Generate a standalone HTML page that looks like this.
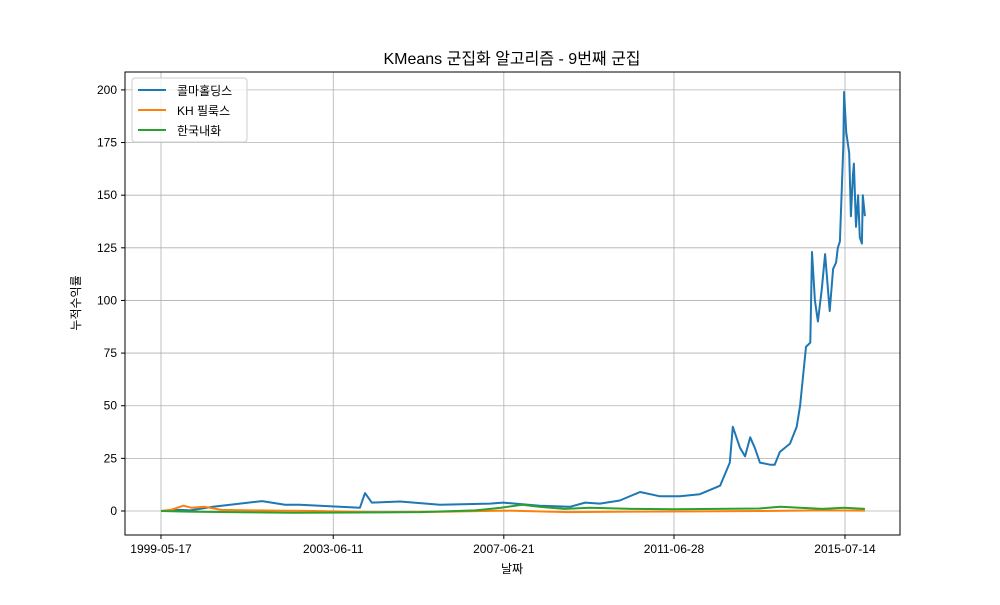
<!DOCTYPE html>
<html><head><meta charset="utf-8"><style>
body{margin:0;background:#fff;font-family:"Liberation Sans","Noto Sans CJK KR",sans-serif}
</style></head><body>
<svg id="chart" width="1000" height="600" xmlns="http://www.w3.org/2000/svg" font-family="Liberation Sans, Noto Sans CJK KR, sans-serif">
<rect width="1000" height="600" fill="#fff"/>
<g id="grid"></g><g id="series"></g><g id="axes"></g>
<text x="512" y="64" text-anchor="middle" font-size="16" fill="#000">KMeans 군집화 알고리즘 - 9번째 군집</text>
<text x="512" y="573" text-anchor="middle" font-size="12">날짜</text>
<text transform="translate(80,303) rotate(-90)" text-anchor="middle" font-size="12">누적수익률</text>
<g>
<rect x="132" y="78" width="115" height="64" fill="#fff" fill-opacity="0.8" stroke="#ccc" rx="3"/>
<g><line x1="138" y1="90" x2="166" y2="90" stroke="#1f77b4" stroke-width="2"/><text x="177" y="95" font-size="12">콜마홀딩스</text></g>
<g><line x1="138" y1="110" x2="166" y2="110" stroke="#ff7f0e" stroke-width="2"/><text x="177" y="115" font-size="12">KH 필룩스</text></g>
<g><line x1="138" y1="130" x2="166" y2="130" stroke="#2ca02c" stroke-width="2"/><text x="177" y="135" font-size="12">한국내화</text></g>
</g>
</svg>
<script>
const yTicks=[0,25,50,75,100,125,150,175,200];
const xTickYears=[1999.37,2003.44,2007.47,2011.49,2015.53];
const xTickLabels=["1999-05-17","2003-06-11","2007-06-21","2011-06-28","2015-07-14"];
const blueYears=[1999.37,1999.82,2000.06,2000.60,2001.76,2002.30,2002.65,2004.07,2004.19,2004.35,2005.02,2005.96,2007.14,2007.45,2008.32,2009.03,2009.39,2009.74,2010.21,2010.69,2011.16,2011.63,2012.10,2012.34,2012.58,2012.81,2012.88,2013.05,2013.17,2013.29,2013.40,2013.52,2013.76,2013.87,2013.99,2014.23,2014.39,2014.47,2014.61,2014.71,2014.75,2014.82,2014.89,2014.98,2015.06,2015.13,2015.17,2015.25,2015.32,2015.36,2015.41,2015.49,2015.51,2015.56,2015.63,2015.67,2015.72,2015.74,2015.79,2015.84,2015.88,2015.93,2015.95,2016.00];
const blueValues=[0,0.5,0.3,2,4.7,3,3,1.5,8.5,4,4.5,3,3.5,4,2.5,2,4,3.5,5,9,7,7,8,10,12,23,40,30,26,35,30,23,22,22,28,32,40,50,78,80,123,100,90,105,122,105,95,115,118,125,128,173,199,180,170,140,160,165,135,150,130,127,150,140];
const orangeYears=[1999.37,1999.6,1999.9,2000.1,2000.4,2000.8,2001.5,2003.0,2004.5,2006.0,2007.5,2009.0,2010.5,2012.0,2013.5,2015.0,2016.0];
const orangeValues=[0,0.5,2.5,1.5,2,0.5,0.3,0,-0.5,-0.4,0.2,-0.5,-0.3,-0.2,0,0.3,0.2];
const greenYears=[1999.37,2000.0,2001.0,2002.5,2004.0,2005.5,2006.8,2007.4,2007.9,2008.3,2008.9,2009.5,2010.5,2011.5,2012.5,2013.5,2014.0,2015.0,2015.5,2016.0];
const greenValues=[0,-0.3,-0.5,-0.8,-0.7,-0.5,0.3,1.5,3,2,1,1.5,1,0.8,1,1.2,2,1,1.5,1];
const L=125,R=900,T=72,B=535,X0=1998.52,X1=2016.83,Y0=-11.4,Y1=208.5;
const sx=v=>L+(v-X0)/(X1-X0)*(R-L), sy=v=>B-(v-Y0)/(Y1-Y0)*(B-T);
const NS="http://www.w3.org/2000/svg";
function mk(p,t,a){const e=document.createElementNS(NS,t);for(const k in a)e.setAttribute(k,a[k]);p.appendChild(e);return e;}
const grid=document.getElementById('grid'),axes=document.getElementById('axes'),ser=document.getElementById('series');
yTicks.forEach(v=>{const y=sy(v);
const g=mk(grid,'line',{x1:L,x2:R,y1:y,y2:y,stroke:'#b0b0b0','stroke-width':0.8});


mk(axes,'line',{x1:L-4,x2:L,y1:y,y2:y,stroke:'#000'});
const t=mk(axes,'text',{x:L-8,y:y+4,'text-anchor':'end','font-size':12});t.textContent=v;

});
xTickYears.forEach((v,i)=>{const x=sx(v);
const g=mk(grid,'line',{x1:x,x2:x,y1:T,y2:B,stroke:'#b0b0b0','stroke-width':0.8});


mk(axes,'line',{x1:x,x2:x,y1:B,y2:B+4,stroke:'#000'});
const t=mk(axes,'text',{x:x,y:B+18,'text-anchor':'middle','font-size':12});t.textContent=xTickLabels[i];

});
const fr=mk(axes,'rect',{x:L,y:T,width:R-L,height:B-T,fill:'none',stroke:'#000','stroke-width':1});


function line(xs,ys,c,name){const d=xs.map((x,i)=>(i?'L':'M')+sx(x).toFixed(1)+','+sy(ys[i]).toFixed(1)).join('');
const p=mk(ser,'path',{d:d,fill:'none',stroke:c,'stroke-width':2,'stroke-linejoin':'round'});

}
line(blueYears,blueValues,'#1f77b4','line-kolmar-holdings');
line(orangeYears,orangeValues,'#ff7f0e','line-kh-feelux');
line(greenYears,greenValues,'#2ca02c','line-hanwha-refractories');
</script>
</body></html>
